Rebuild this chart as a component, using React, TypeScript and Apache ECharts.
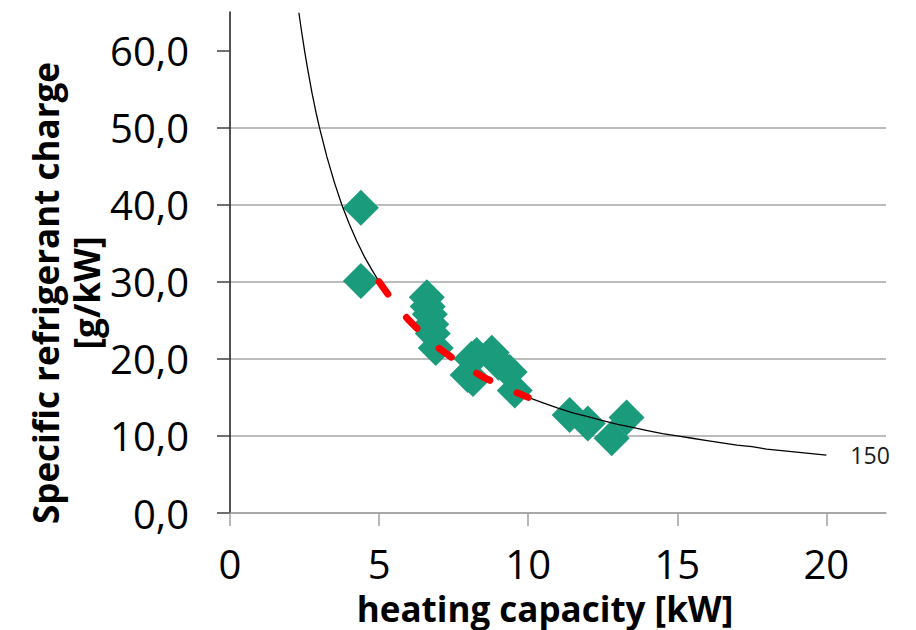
import React, { useEffect, useRef } from "react";
import * as echarts from "echarts";

// Measured units: heating capacity [kW] vs specific refrigerant charge [g/kW]
const unitCapacity = [4.39, 4.39, 6.6, 6.63, 6.7, 6.75, 6.8, 6.9, 7.97, 8.1, 8.27, 8.15, 8.78, 9.0, 9.38, 9.55, 11.39, 12.0, 12.8, 13.3];
const unitCharge = [39.6, 30.1, 28.0, 26.8, 25.8, 24.5, 23.3, 21.4, 17.9, 20.0, 20.5, 17.4, 20.8, 19.5, 18.3, 15.9, 12.7, 11.6, 9.7, 12.4];

// Iso-line of 150 g total charge, split where the red dashed part runs
const isoLowX = [2.31, 2.4, 2.5, 2.6, 2.75, 2.9, 3.0, 3.25, 3.5, 3.75, 4.0, 4.25, 4.5, 4.75, 5.0];
const isoLowY = [64.9, 62.5, 60.0, 57.7, 54.5, 51.7, 50.0, 46.2, 42.9, 40.0, 37.5, 35.3, 33.3, 31.6, 30.0];
const isoHighX = [10, 10.5, 11, 11.5, 12, 12.5, 13, 13.5, 14, 14.5, 15, 15.5, 16, 16.5, 17, 17.5, 18, 18.5, 19, 19.5, 20];
const isoHighY = [15.0, 14.3, 13.6, 13.0, 12.5, 12.0, 11.5, 11.1, 10.7, 10.3, 10.0, 9.7, 9.4, 9.1, 8.8, 8.6, 8.3, 8.1, 7.9, 7.7, 7.5];
const isoLabel = "150";

// Red dashed section of the iso-line
const dashX = [5, 5.5, 6, 6.5, 7, 7.5, 8, 8.5, 9, 9.5, 10];
const dashY = [30.0, 27.3, 25.0, 23.1, 21.4, 20.0, 18.75, 17.6, 16.7, 15.8, 15.0];

const xTicks = [0, 5, 10, 15, 20];
const yTicks = [0, 10, 20, 30, 40, 50, 60];

const xTitle = "heating capacity [kW]";
const yTitle = "Specific refrigerant charge\n[g/kW]";

const FONT = "'Open Sans', 'Noto Sans', sans-serif";

export default function App() {
  const ref = useRef<HTMLDivElement>(null);

  useEffect(() => {
    if (!ref.current) return;
    const chart = echarts.init(ref.current, undefined, { renderer: "svg" });

    const scatterData = unitCapacity.map((x, i) => [x, unitCharge[i]]);
    const lowData = isoLowX.map((x, i) => [x, isoLowY[i]]);
    const highData = isoHighX.map((x, i) => [x, isoHighY[i]]);
    const dashData = dashX.map((x, i) => [x, dashY[i]]);

    chart.setOption({
      animation: false,
      backgroundColor: "#ffffff",
      grid: { left: 230, right: 30, top: 12, bottom: 117, containLabel: false },
      xAxis: {
        type: "value",
        min: 0,
        max: 22,
        interval: 5,
        axisLine: { show: true, onZero: false, lineStyle: { color: "#a0a0a0", width: 1.5 } },
        axisTick: {
          show: true,
          length: 13,
          customValues: xTicks,
          lineStyle: { color: "#a0a0a0", width: 1.5 },
        },
        axisLabel: {
          show: true,
          customValues: xTicks,
          margin: 30,
          fontSize: 40,
          fontFamily: FONT,
          color: "#000000",
        },
        splitLine: { show: false },
      },
      yAxis: {
        type: "value",
        min: 0,
        max: 65,
        interval: 10,
        axisLine: { show: true, onZero: false, lineStyle: { color: "#1a1a1a", width: 1.5 } },
        axisTick: {
          show: true,
          length: 13,
          customValues: yTicks,
          lineStyle: { color: "#404040", width: 1.5 },
        },
        axisLabel: {
          show: true,
          customValues: yTicks,
          margin: 41,
          fontSize: 40,
          fontFamily: FONT,
          color: "#000000",
          formatter: (v: number) => v.toFixed(1).replace(".", ","),
        },
        splitLine: {
          show: true,
          showMaxLine: false,
          lineStyle: { color: "#a6a6a6", width: 1.5 },
        },
      },
      graphic: [
        {
          type: "text",
          x: 545,
          y: 608,
          style: {
            text: xTitle,
            fontSize: 35,
            fontWeight: "bold",
            fontFamily: FONT,
            fill: "#000000",
            align: "center",
            verticalAlign: "middle",
          },
        },
        {
          type: "text",
          x: 66,
          y: 293,
          rotation: Math.PI / 2,
          style: {
            text: yTitle,
            fontSize: 35,
            fontWeight: "bold",
            fontFamily: FONT,
            fill: "#000000",
            align: "center",
            verticalAlign: "middle",
            lineHeight: 41,
          },
        },
      ],
      series: [
        {
          type: "scatter",
          data: scatterData,
          symbol: "diamond",
          symbolSize: 36,
          itemStyle: { color: "#1a9c7c", opacity: 1 },
          z: 2,
        },
        {
          type: "line",
          data: lowData,
          showSymbol: false,
          symbol: "none",
          lineStyle: { color: "#000000", width: 1.3 },
          z: 3,
        },
        {
          type: "line",
          data: highData,
          showSymbol: false,
          symbol: "none",
          lineStyle: { color: "#000000", width: 1.3 },
          endLabel: {
            show: true,
            distance: 24,
            formatter: isoLabel,
            fontSize: 23,
            fontFamily: FONT,
            color: "#1a1a1a",
          },
          z: 3,
        },
        {
          type: "line",
          data: dashData,
          showSymbol: false,
          symbol: "none",
          lineStyle: {
            color: "#ff0000",
            width: 7,
            type: [15, 30],
            cap: "round",
          },
          z: 4,
        },
      ],
    });

    return () => chart.dispose();
  }, []);

  return (
    <div
      ref={ref}
      style={{ position: "fixed", left: 0, top: 0, width: 916, height: 630 }}
    />
  );
}
